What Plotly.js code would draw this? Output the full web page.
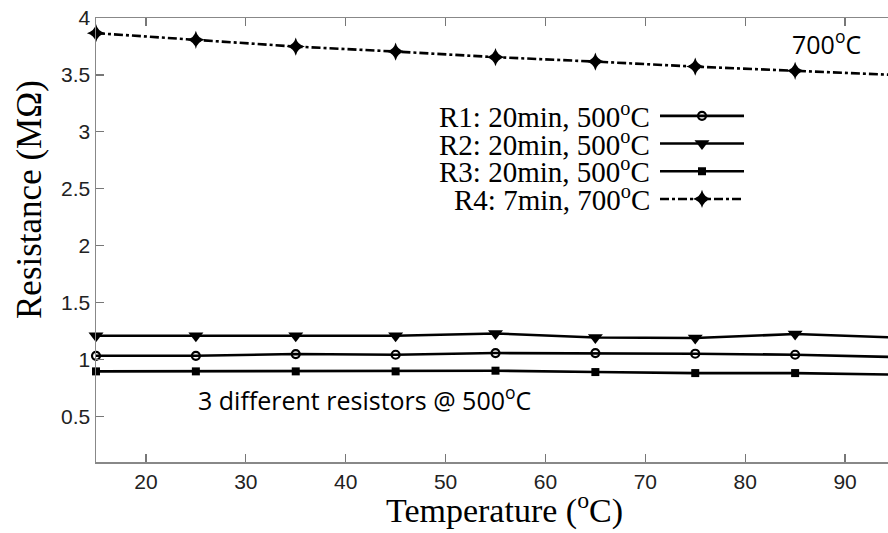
<!DOCTYPE html>
<html>
<head>
<meta charset="utf-8">
<script src="https://cdn.plot.ly/plotly-3.0.1.min.js"></script>
<style>html,body{margin:0;padding:0;background:#fff}#chart{width:888px;height:533px}</style>
</head>
<body>
<div id="chart"></div>
<script>
// Data
const temperatures = [15, 25, 35, 45, 55, 65, 75, 85, 95];
const r1Values = [1.033, 1.033, 1.048, 1.042, 1.057, 1.057, 1.051, 1.042, 1.022];
const r2Values = [1.209, 1.209, 1.209, 1.209, 1.229, 1.194, 1.189, 1.224, 1.194];
const r3Values = [0.896, 0.896, 0.896, 0.896, 0.902, 0.890, 0.881, 0.881, 0.867];
const r4Values = [3.867, 3.808, 3.749, 3.705, 3.656, 3.617, 3.573, 3.536, 3.500];
const seriesLabels = ['R1: 20min, 500<sup>o</sup>C', 'R2: 20min, 500<sup>o</sup>C', 'R3: 20min, 500<sup>o</sup>C', 'R4: 7min, 700<sup>o</sup>C'];
const xTicks = [20, 30, 40, 50, 60, 70, 80, 90];
const yTicks = [0.5, 1, 1.5, 2, 2.5, 3, 3.5, 4];
const yTickText = ['0.5', '1', '1.5', '2', '2.5', '3', '3.5', '4'];

// plot-area geometry (px) used only to place texts in paper coordinates
const PL = 96, PW = 792, PB = 462, PH = 444;
const px = v => (v - PL) / PW;
const py = v => (PB - v) / PH;

const base = {x: temperatures, type: 'scatter', mode: 'lines+markers', cliponaxis: false, hoverinfo: 'skip'};
const traces = [
  Object.assign({}, base, {y: r1Values, name: '\u00a0', line: {color: '#000', width: 2.6},
    marker: {symbol: 'circle-open', size: 8, color: '#000', line: {width: 2.2, color: '#000'}}}),
  Object.assign({}, base, {y: r2Values, name: '\u00a0', line: {color: '#000', width: 2.6},
    marker: {symbol: 'triangle-down', size: 13, color: '#000'}}),
  Object.assign({}, base, {y: r3Values, name: '\u00a0', line: {color: '#000', width: 2.6},
    marker: {symbol: 'square', size: 8, color: '#000'}}),
  Object.assign({}, base, {y: r4Values, name: '\u00a0', line: {color: '#000', width: 2.6, dash: '9px,3px,3px,3px'},
    marker: {symbol: 'star-diamond', size: 13, color: '#000'}})
];

const legendRows = [115, 142.7, 170.3, 198];
const legendAnns = seriesLabels.map((t, i) => ({
  xref: 'paper', yref: 'paper', x: px(652), y: py(legendRows[i]),
  xanchor: 'right', yanchor: 'middle', text: t, showarrow: false,
  font: {family: 'Liberation Serif, Times New Roman, serif', size: 29, color: '#000'}
}));

const layout = {
  width: 888, height: 533,
  margin: {l: PL, r: 0, t: 18, b: 533 - PB, pad: 0},
  paper_bgcolor: '#fff', plot_bgcolor: '#fff',
  showlegend: true,
  hovermode: false,
  legend: {x: px(655), y: py(97), xanchor: 'left', yanchor: 'top',
    bgcolor: 'rgba(0,0,0,0)', borderwidth: 0, font: {size: 19, family: 'Liberation Serif'},
    itemwidth: 84, tracegroupgap: 0},
  xaxis: {
    range: [15, 94.3], tickmode: 'array', tickvals: xTicks, ticktext: xTicks.map(String),
    ticks: 'inside', ticklen: 8, tickwidth: 1.2, tickcolor: '#777',
    showline: true, linecolor: '#888', linewidth: 1.5, mirror: 'ticks',
    showgrid: false, zeroline: false,
    tickfont: {family: 'Liberation Sans, Arial, sans-serif', size: 21, color: '#222'}
  },
  yaxis: {
    range: [0.1, 4], tickmode: 'array', tickvals: yTicks, ticktext: yTickText,
    ticks: 'inside', ticklen: 8, tickwidth: 1.2, tickcolor: '#777',
    showline: true, linecolor: '#888', linewidth: 1.5,
    showgrid: false, zeroline: false,
    tickfont: {family: 'Liberation Sans, Arial, sans-serif', size: 21, color: '#222'}
  },
  annotations: legendAnns.concat([
    {xref: 'paper', yref: 'paper', x: px(29), y: py(200), xanchor: 'center', yanchor: 'middle',
      textangle: -90, showarrow: false, text: 'Resistance (MΩ)',
      font: {family: 'Liberation Serif, Times New Roman, serif', size: 35, color: '#000'}},
    {xref: 'paper', yref: 'paper', x: px(504), y: py(509), xanchor: 'center', yanchor: 'middle',
      showarrow: false, text: 'Temperature (<sup>o</sup>C)',
      font: {family: 'Liberation Serif, Times New Roman, serif', size: 34, color: '#000'}},
    {xref: 'paper', yref: 'paper', x: px(826), y: py(43), xanchor: 'center', yanchor: 'middle',
      showarrow: false, text: '700<sup>o</sup>C',
      font: {family: 'Open Sans, sans-serif', size: 25, color: '#000'}},
    {xref: 'paper', yref: 'paper', x: px(364), y: py(398), xanchor: 'center', yanchor: 'middle',
      showarrow: false, text: '3 different resistors @ 500<sup>o</sup>C',
      font: {family: 'Open Sans, sans-serif', size: 25, color: '#000'}}
  ])
};

Plotly.newPlot('chart', traces, layout, {displayModeBar: false, staticPlot: true});
</script>
</body>
</html>
